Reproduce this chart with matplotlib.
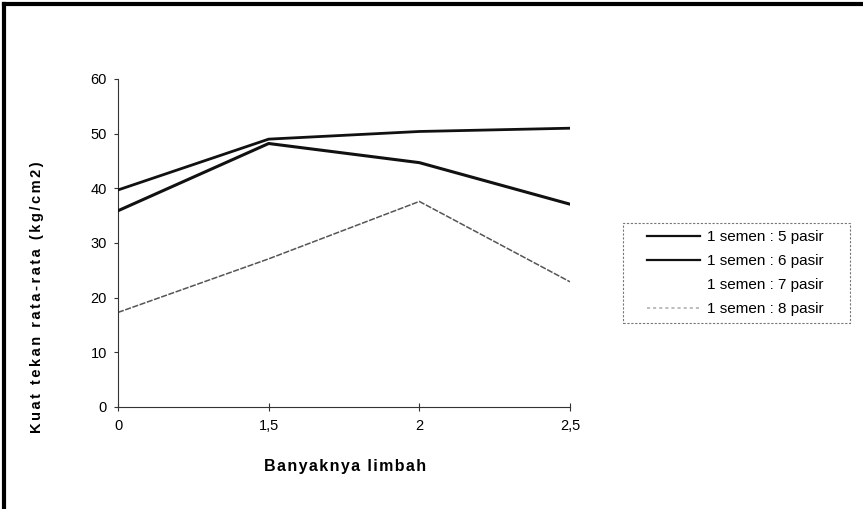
import matplotlib
matplotlib.use("Agg")
import matplotlib.pyplot as plt
from matplotlib.lines import Line2D
from matplotlib.patches import Rectangle

plt.rcParams['font.family'] = ['Liberation Sans', 'DejaVu Sans']

categories = ["0", "1,5", "2", "2,5"]
s5 = [39.7, 49.0, 50.4, 51.0]
s6 = [35.9, 48.2, 44.7, 37.1]
s7 = [17.3, 27.1, 37.6, 22.9]
s8 = [17.3, 27.1, 37.6, 22.9]
labels = ["1 semen : 5 pasir", "1 semen : 6 pasir", "1 semen : 7 pasir", "1 semen : 8 pasir"]
y_ticks = [0, 10, 20, 30, 40, 50, 60]
x_title = "Banyaknya limbah"
y_title = "Kuat tekan rata-rata (kg/cm2)"

HS = "\u200a"
def spaced(t, n=1):
    return (HS * n).join(list(t))

fig = plt.figure(figsize=(8.63, 5.09), dpi=100)
W, H = 863, 509
ax = fig.add_axes([118 / W, 1 - 407 / H, (570 - 118) / W, (407 - 79) / H])

x = list(range(len(categories)))
l7, = ax.plot(x, s7, color="white", lw=1.0, zorder=1)
l8, = ax.plot(x, s8, color="#555555", lw=1.1, ls=(0, (4, 1)), zorder=2)
l6, = ax.plot(x, s6, color="#111111", lw=2.2, zorder=3)
l5, = ax.plot(x, s5, color="#111111", lw=2.0, zorder=4)

ax.set_xlim(0, 3)
ax.set_ylim(0, 60)
ax.set_xticks(x)
ax.set_xticklabels(categories)
ax.set_yticks(y_ticks)
for s in ["top", "right"]:
    ax.spines[s].set_visible(False)
for s in ["left", "bottom"]:
    ax.spines[s].set_color("#333333")
    ax.spines[s].set_linewidth(0.8)
ax.tick_params(axis="y", direction="out", length=3, width=0.8, color="#333333",
               labelsize=10.5, pad=5)
ax.tick_params(axis="x", direction="inout", length=6, width=0.8, color="#333333",
               labelsize=10.5, pad=6)

fig.text(37 / W, 1 - 297 / H, spaced(y_title, 2), rotation=90, ha="center", va="center",
         fontsize=10.5, fontweight="bold")
fig.text(345 / W, 1 - 466 / H, spaced(x_title), ha="center", va="center",
         fontsize=11.5, fontweight="bold")

leg = fig.legend([l5, l6, l7, l8], labels, loc="upper left",
                 bbox_to_anchor=(647 / W, 1 - 230 / H), fontsize=11,
                 frameon=False, handlelength=3.5, handletextpad=0.4,
                 borderpad=0, labelspacing=0.66, borderaxespad=0)
leg.legend_handles[0].set_linewidth(1.6)
leg.legend_handles[1].set_linewidth(1.6)
leg.legend_handles[3].set_color("#aaaaaa")
leg.legend_handles[3].set_linestyle((0, (2, 2)))

fig.add_artist(Rectangle((623 / W, 1 - 323 / H), (850 - 623) / W, (323 - 223) / H,
                         transform=fig.transFigure, fill=False, edgecolor="#777777",
                         lw=0.8, ls=(0, (2, 1.5))))

# outer chart frame
fig.add_artist(Line2D([4 / W, 1], [1 - 4 / H, 1 - 4 / H], color="black", lw=3, transform=fig.transFigure))
fig.add_artist(Line2D([4 / W, 4 / W], [0, 1 - 4 / H], color="black", lw=3, transform=fig.transFigure))

fig.savefig("out.png", dpi=100)
